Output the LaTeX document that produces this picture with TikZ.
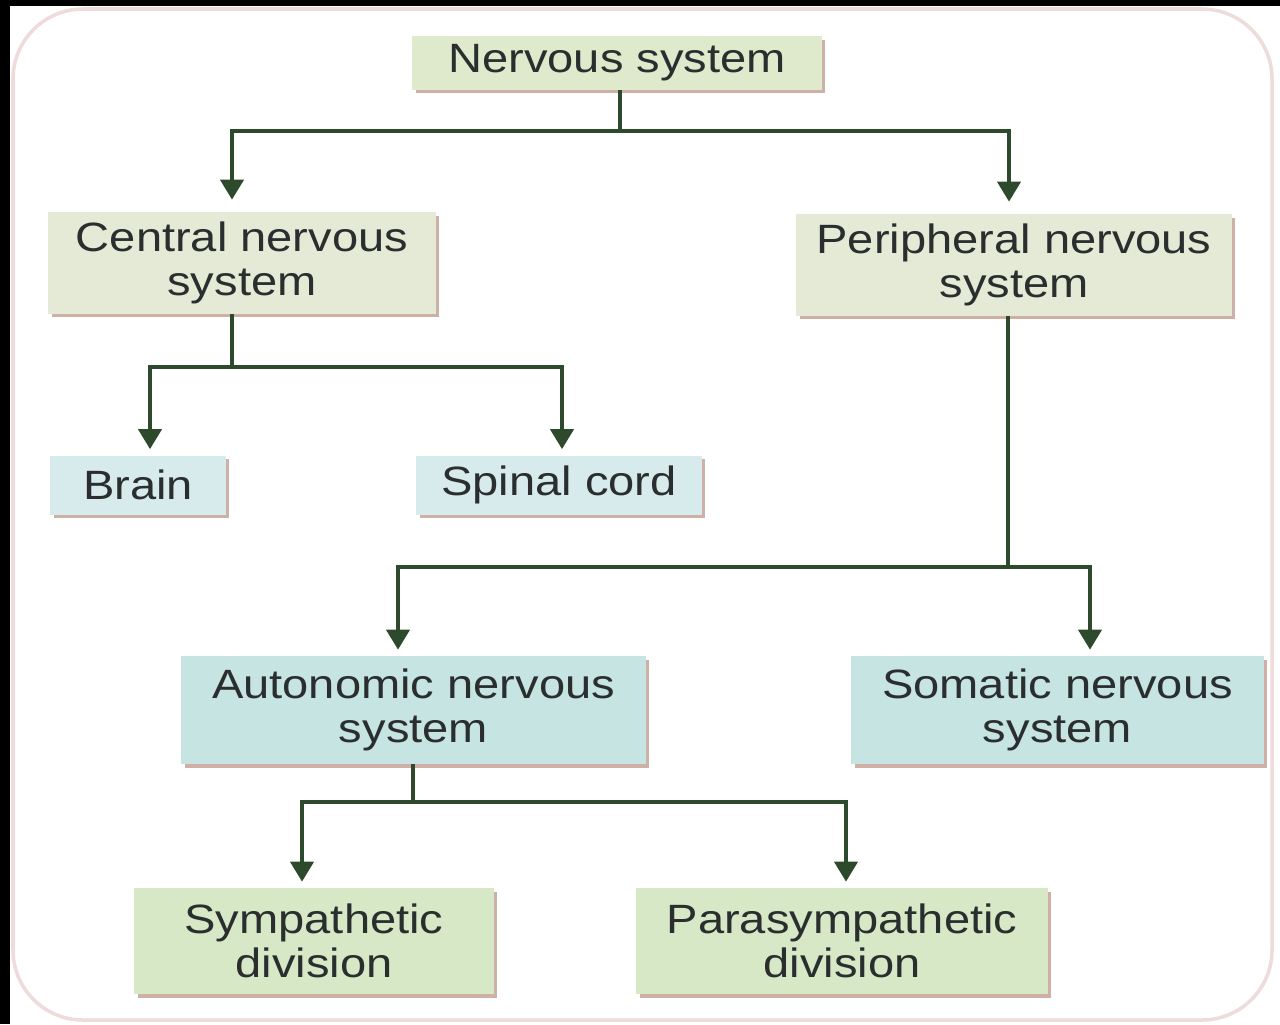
\documentclass[tikz,border=0pt]{standalone}
\usepackage{fontspec}
\newfontfamily\boxfont{Liberation Sans}[FakeStretch=1.15]
\usetikzlibrary{arrows.meta,shadows,calc}
\definecolor{lineG}{HTML}{2E4A2C}
\definecolor{topG}{HTML}{DFE9CB}
\definecolor{midG}{HTML}{E4EAD5}
\definecolor{lblue}{HTML}{D7EBEC}
\definecolor{teal}{HTML}{C5E4E2}
\definecolor{botG}{HTML}{D6E8C6}
\definecolor{txt}{HTML}{2A2E2E}
\definecolor{shad}{HTML}{C9A89E}
\definecolor{frame}{HTML}{EDDCDA}
\begin{document}
\begin{tikzpicture}[x=0.02cm,y=-0.02cm,
  box/.style={rectangle, inner sep=0pt, align=center, text=txt,
    font=\boxfont\fontsize{23.3}{25}\selectfont,
    drop shadow={shadow xshift=0.07cm, shadow yshift=-0.07cm, fill=shad, opacity=0.9}},
  conn/.style={draw=lineG, line width=2.3pt},
  arr/.style={conn, -{Triangle[width=0.46cm,length=0.4cm]}, shorten >=0.12cm},
  arrL/.style={arr, shorten >=0.24cm}]
\useasboundingbox (0,0) rectangle (1280,1024);
\fill[white] (0,0) rectangle (1280,1024);
\fill[black] (0,0) rectangle (10,1024);
\fill[black] (0,0) rectangle (1280,6);
\draw[frame, line width=2pt, rounded corners=1.4cm] (13,9) rectangle (1272,1020);

\node[box, fill=topG, minimum width=8.2cm, minimum height=1.08cm] (ns) at (617,63) {Nervous system};
\node[box, fill=midG, minimum width=7.76cm, minimum height=2.04cm] (cns) at (242,263) {Central nervous\\system};
\node[box, fill=midG, minimum width=8.72cm, minimum height=2.04cm] (pns) at (1014,265) {Peripheral nervous\\system};
\node[box, fill=lblue, minimum width=3.52cm, minimum height=1.18cm] (brain) at (138,485) {Brain};
\node[box, fill=lblue, minimum width=5.72cm, minimum height=1.18cm] (spinal) at (559,485) {Spinal cord};
\node[box, fill=teal, minimum width=9.3cm, minimum height=2.16cm] (ans) at (413.5,710) {Autonomic nervous\\system};
\node[box, fill=teal, minimum width=8.26cm, minimum height=2.16cm] (sns) at (1057.5,710) {Somatic nervous\\system};
\node[box, fill=botG, minimum width=7.2cm, minimum height=2.12cm] (symp) at (314,941) {Sympathetic\\division};
\node[box, fill=botG, minimum width=8.24cm, minimum height=2.12cm] (para) at (842,941) {Parasympathetic\\division};

\coordinate (j1) at (620,131);
\coordinate (j2) at (232,367);
\coordinate (j3) at (1008,567);
\coordinate (j4) at (413,802);

\draw[conn] (ns.south -| j1) -- (j1);
\draw[arrL] (j1) -| ([xshift=-0.2cm]cns.north);
\draw[arrL] (j1) -| ([xshift=-0.1cm]pns.north);

\draw[conn] (cns.south -| j2) -- (j2);
\draw[arr] (j2) -| ([xshift=0.24cm]brain.north);
\draw[arr] (j2) -| ([xshift=0.06cm]spinal.north);

\draw[conn] (pns.south -| j3) -- (j3);
\draw[arr] (j3) -| ([xshift=-0.31cm]ans.north);
\draw[arr] (j3) -| ([xshift=0.65cm]sns.north);

\draw[conn] (ans.south -| j4) -- (j4);
\draw[arr] (j4) -| ([xshift=-0.24cm]symp.north);
\draw[arr] (j4) -| ([xshift=0.08cm]para.north);
\end{tikzpicture}
\end{document}
